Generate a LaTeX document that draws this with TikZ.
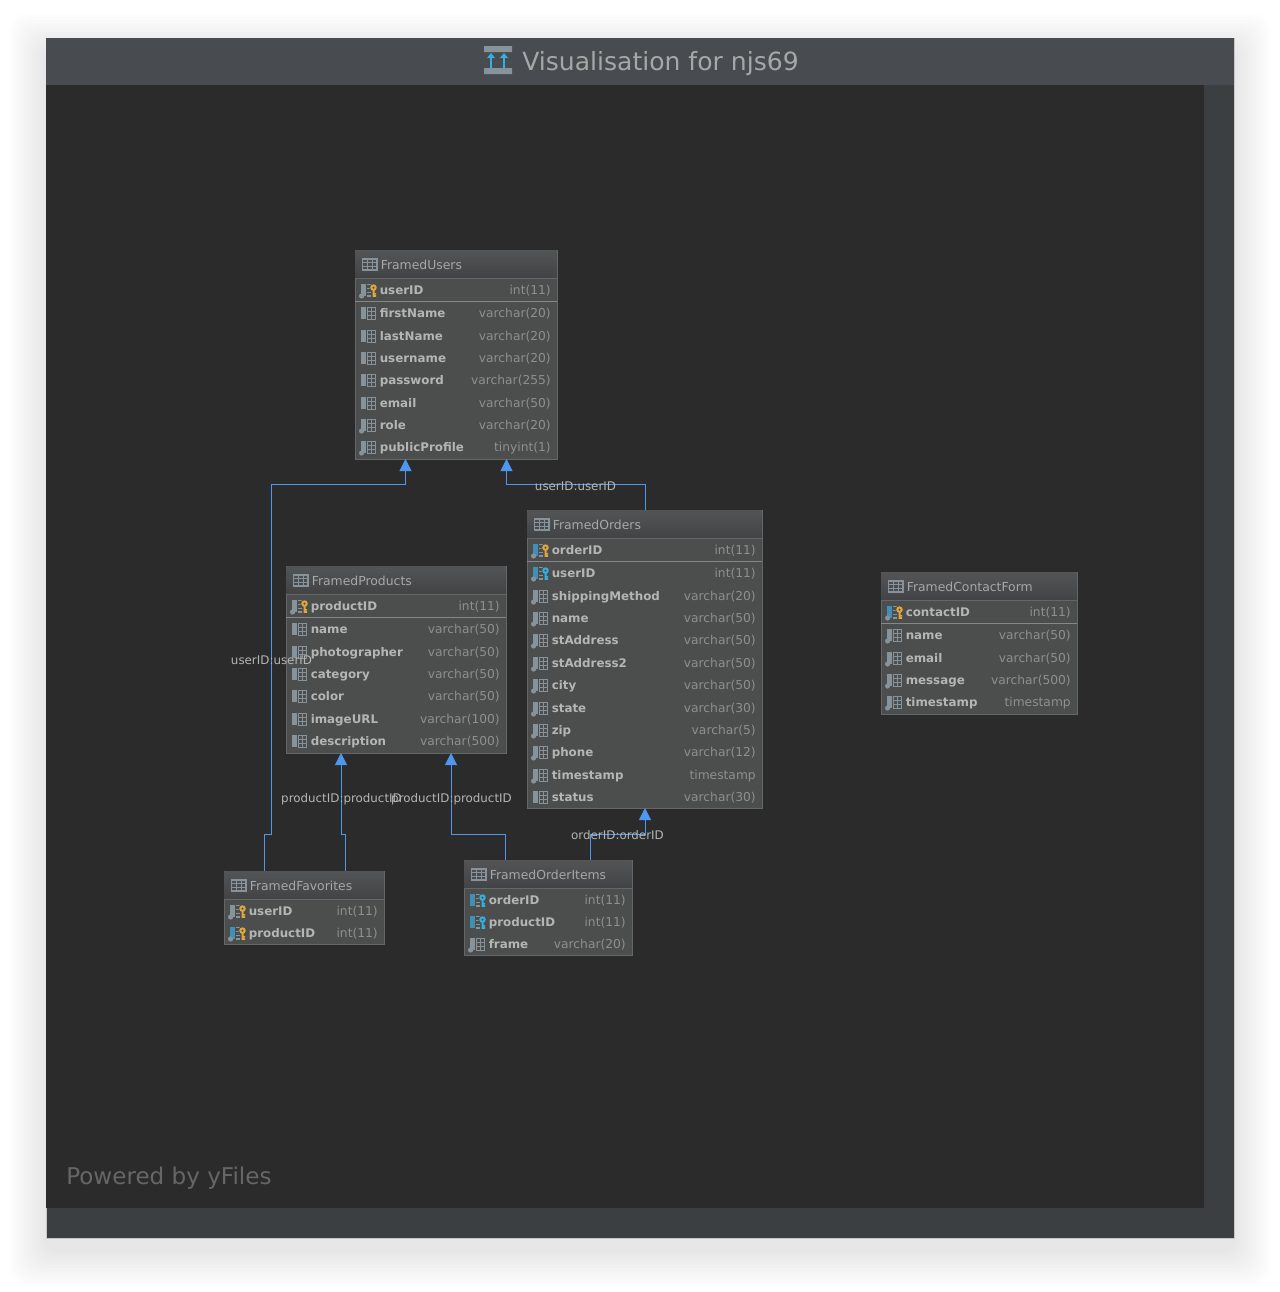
\documentclass[tikz,border=0pt]{standalone}
\usepackage{fontspec}
\setmainfont{DejaVu Sans}
\usetikzlibrary{calc,arrows.meta}
\definecolor{canvasbg}{HTML}{2B2B2B}
\definecolor{panelbg}{HTML}{3C3F41}
\definecolor{titlebg}{HTML}{484B4F}
\definecolor{tablebg}{HTML}{4C4E4E}
\definecolor{tableline}{HTML}{64676A}
\definecolor{headtop}{HTML}{525456}
\definecolor{headbot}{HTML}{414345}
\definecolor{rowline}{HTML}{85888A}
\definecolor{colname}{HTML}{B4B6B6}
\definecolor{coltype}{HTML}{8E9090}
\definecolor{barcol}{HTML}{87939A}
\definecolor{fkcol}{HTML}{3F90B4}
\definecolor{pkkey}{HTML}{E2A73A}
\definecolor{fkkey}{HTML}{34B0E0}
\definecolor{linkcol}{HTML}{4F96EE}
\tikzset{
    tablebox/.style={draw=tableline, fill=tablebg, line width=.75pt, rectangle, anchor=north west, inner sep=0pt, outer sep=0pt},
    tablehead/.style={rectangle, anchor=north west, top color=headtop, bottom color=headbot, inner sep=0pt, outer sep=0pt},
    tabletitle/.style={anchor=base west, inner sep=0pt, text=colname!92!black, font=\fontsize{9.3pt}{11pt}\selectfont},
    namecell/.style={anchor=base west, inner sep=0pt, text=colname, font=\bfseries\fontsize{8.9pt}{11pt}\selectfont},
    typecell/.style={anchor=base east, inner sep=0pt, text=coltype, font=\fontsize{9.2pt}{11pt}\selectfont},
    headline/.style={draw=tableline, line width=.75pt},
    rowsep/.style={draw=rowline, line width=.75pt},
    fklink/.style={draw=linkcol, line width=.75pt, -{Triangle[width=9pt,length=9pt]}},
    linklabel/.style={inner sep=0pt, text=colname, font=\fontsize{8.9pt}{11pt}\selectfont},
    % column icons
    barpart/.pic={\fill[#1] (0,-6) rectangle (5,6);},
    dotpart/.pic={\fill[barcol] (0.6,6) circle (2.6);},
    gridpart/.pic={
        \draw[barcol, line width=.75pt] (6,-6) rectangle (14.5,6);
        \draw[barcol, line width=.6pt] (6,-2) -- (14.5,-2) (6,2) -- (14.5,2) (10,-6) -- (10,6);},
    dashpart/.pic={\draw[barcol, line width=1pt] (6,-5.5) -- (15,-5.5) (6,-1.5) -- (10,-1.5) (6,2.5) -- (10,2.5) (6,6) -- (10,6);},
    keypart/.pic={
        \draw[tablebg, line width=2pt] (12.5,-2.4) circle (2.8);
        \fill[tablebg] (10.2,0) rectangle (15,7.5);
        \draw[#1, line width=1.5pt] (12.5,-2.4) circle (2.2);
        \fill[#1] (11.7,0) rectangle (13.5,6.8) (13.5,3) rectangle (15.2,4.6) (13.5,5.2) rectangle (15.2,6.8);},
    iconplain/.pic={\pic {barpart=barcol}; \pic {gridpart};},
    icondot/.pic={\pic {barpart=barcol}; \pic {dotpart}; \pic {gridpart};},
    iconpk/.pic={\pic {barpart=barcol}; \pic {dotpart}; \pic {dashpart}; \pic {keypart=pkkey};},
    iconpf/.pic={\pic {barpart=fkcol}; \pic {dotpart}; \pic {dashpart}; \pic {keypart=pkkey};},
    iconfd/.pic={\pic {barpart=fkcol}; \pic {dotpart}; \pic {dashpart}; \pic {keypart=fkkey};},
    iconfk/.pic={\pic {barpart=fkcol}; \pic {dashpart}; \pic {keypart=fkkey};},
    tableicon/.pic={
        \draw[barcol, line width=.9pt] (0,-5.5) rectangle (14.5,5.5);
        \draw[barcol, line width=.7pt] (0,-2) -- (14.5,-2) (0,1.7) -- (14.5,1.7) (4.8,-5.5) -- (4.8,5.5) (9.6,-5.5) -- (9.6,5.5);},
}
% name, x, y, width, height, title, rows (offset/column/type/icon)
\newcommand{\dbtable}[7]{
    \node [tablebox, minimum width=#4*0.75pt-0.75pt, minimum height=#5*0.75pt-0.75pt] (#1) at (#2,#3) {};
    \node [tablehead, minimum width=#4*0.75pt-1.5pt, minimum height=27.5*0.75pt] (#1-head) at (#2+0.5,#3+0.5) {};
    \draw [headline] ($(#1.north west)+(0,28)$) -- ($(#1.north east)+(0,28)$);
    \pic at ($(#1.north west)+(7.5,14.5)$) {tableicon};
    \node [tabletitle] (#1-title) at ($(#1.north west)+(25.5,19.5)$) {#6};
    \foreach \dy/\col/\type/\kind in {#7} {
        \pic at ($(#1.north west)+(6,\dy)$) {icon\kind};
        \node [namecell] (#1-\col) at ($(#1.north west)+(24.5,\dy+4.6)$) {\col};
        \node [typecell] (#1-\col-type) at ($(#1.north east)+(-6,\dy+4.6)$) {\type};
    }
}
\begin{document}
\begin{tikzpicture}[x=0.75pt, y=-0.75pt]
    \useasboundingbox (0,0) rectangle (1280,1292);
    % window and its shadow
    \foreach \d in {36,33,...,3}
        \fill [black, opacity=.007, rounded corners=12pt] (46-\d,38-\d+12) rectangle (1234+\d,1238+\d+12);
    \node [rectangle, draw=black!22, line width=.75pt, fill=panelbg, anchor=north west, inner sep=0pt, minimum width=1188*0.75pt, minimum height=1200*0.75pt] (window) at (46,38) {};
    \node [rectangle, fill=titlebg, anchor=north west, inner sep=0pt, minimum width=1188*0.75pt, minimum height=47*0.75pt] (titlebar) at (46,38) {};
    \node [rectangle, fill=canvasbg, anchor=north west, inner sep=0pt, minimum width=1158*0.75pt, minimum height=1123*0.75pt] (canvas) at (46,85) {};
    % title
    \fill [barcol] (484,46) rectangle (512,52) (484,68) rectangle (512,74);
    \draw [fkkey, line width=1pt] (491,68) -- (491,56) (504,68) -- (504,56);
    \fill [fkkey] (487,58) -- (491,53) -- (495,58) -- cycle (500,58) -- (504,53) -- (508,58) -- cycle;
    \node [anchor=base west, inner sep=0pt, text=colname!92!black, font=\fontsize{18.8pt}{24pt}\selectfont] (title) at (522,70) {Visualisation for njs69};
    \node [anchor=base west, inner sep=0pt, text=white!40!black, font=\fontsize{17.3pt}{22pt}\selectfont] (powered) at (66,1184) {Powered by yFiles};
    % tables
    \dbtable{users}{355}{250}{203}{210}{FramedUsers}{40/userID/int(11)/pk,63/firstName/varchar(20)/plain,86/lastName/varchar(20)/plain,108/username/varchar(20)/plain,130/password/varchar(255)/plain,153/email/varchar(50)/plain,175/role/varchar(20)/dot,197/publicProfile/tinyint(1)/dot}
    \dbtable{orders}{527}{510}{236}{299}{FramedOrders}{40/orderID/int(11)/pf,63/userID/int(11)/fd,86/shippingMethod/varchar(20)/dot,108/name/varchar(50)/dot,130/stAddress/varchar(50)/dot,153/stAddress2/varchar(50)/dot,175/city/varchar(50)/dot,198/state/varchar(30)/dot,220/zip/varchar(5)/dot,242/phone/varchar(12)/dot,265/timestamp/timestamp/dot,287/status/varchar(30)/plain}
    \dbtable{products}{286}{566}{221}{188}{FramedProducts}{40/productID/int(11)/pk,63/name/varchar(50)/plain,86/photographer/varchar(50)/plain,108/category/varchar(50)/plain,130/color/varchar(50)/plain,153/imageURL/varchar(100)/plain,175/description/varchar(500)/plain}
    \dbtable{contact}{881}{572}{197}{143}{FramedContactForm}{40/contactID/int(11)/pf,63/name/varchar(50)/dot,86/email/varchar(50)/dot,108/message/varchar(500)/dot,130/timestamp/timestamp/dot}
    \dbtable{favorites}{224}{871}{161}{74}{FramedFavorites}{40/userID/int(11)/pk,62/productID/int(11)/pf}
    \dbtable{items}{464}{860}{169}{96}{FramedOrderItems}{40/orderID/int(11)/fk,62/productID/int(11)/fk,84/frame/varchar(20)/dot}
    \draw [rowsep] ($(users.north west)+(0,51)$) -- ($(users.north east)+(0,51)$);
    \draw [rowsep] ($(orders.north west)+(0,51)$) -- ($(orders.north east)+(0,51)$);
    \draw [rowsep] ($(products.north west)+(0,51)$) -- ($(products.north east)+(0,51)$);
    \draw [rowsep] ($(contact.north west)+(0,51)$) -- ($(contact.north east)+(0,51)$);
    % foreign keys
    \path [fklink] ($(favorites.north west)+(40,0)$) -- ++(0,-37) -- ++(7,0) -- ++(0,-350) -| ($(users.south west)+(50.5,0)$);
    \path [fklink] ($(orders.north west)+(118,0)$) -- ++(0,-26) -| ($(users.south west)+(151.5,0)$);
    \path [fklink] ($(favorites.north west)+(121,0)$) -- ++(0,-37) -| ($(products.south west)+(55,0)$);
    \path [fklink] ($(items.north west)+(41,0)$) -- ++(0,-26) -| ($(products.south west)+(165,0)$);
    \path [fklink] ($(items.north west)+(126,0)$) -- ++(0,-26) -| ($(orders.south west)+(118,0)$);
    \node [linklabel] (label1) at (575.5,486) {userID:userID};
    \node [linklabel] (label2) at (271.5,660) {userID:userID};
    \node [linklabel] (label3) at (341.5,799) {productID:productID};
    \node [linklabel] (label4) at (451.5,799) {productID:productID};
    \node [linklabel] (label5) at (617.5,835) {orderID:orderID};
\end{tikzpicture}
\end{document}
